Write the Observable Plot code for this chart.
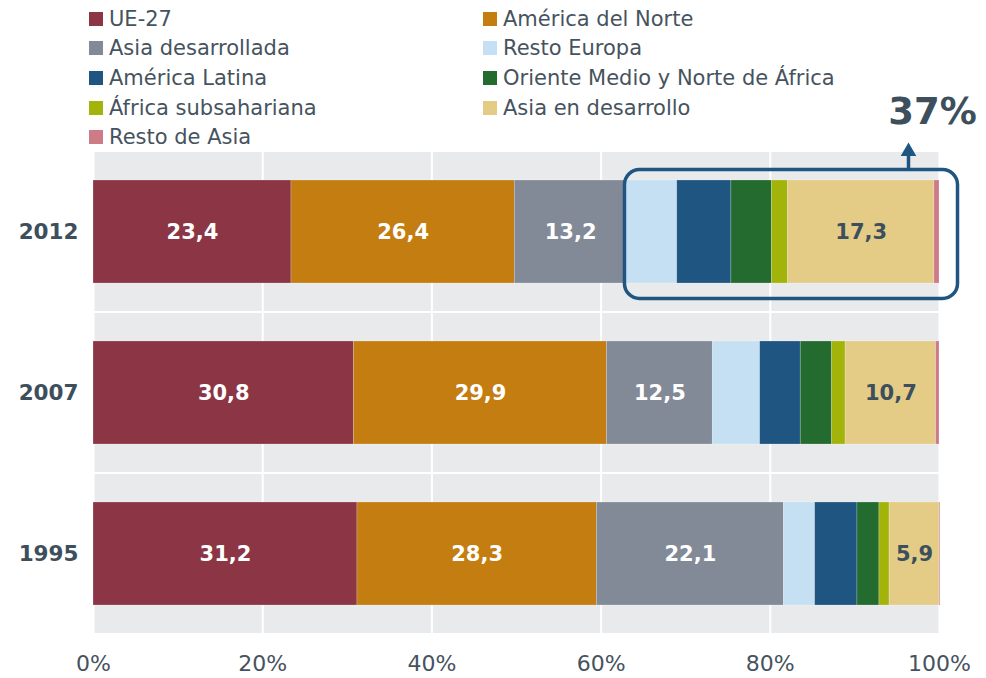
<!DOCTYPE html>
<html><head><meta charset="utf-8">
<script src="https://cdn.jsdelivr.net/npm/d3@7"></script>
<script src="https://cdn.jsdelivr.net/npm/@observablehq/plot@0.6"></script>
<style>
body{margin:0;background:#fff;font-family:"DejaVu Sans",Verdana,sans-serif;}
#wrap{position:relative;width:986px;height:678px;overflow:hidden;}
#legend{position:absolute;left:0;top:0;width:986px;height:150px;pointer-events:none;}
.item{position:absolute;display:flex;align-items:center;height:30px;font-size:21px;color:#46535e;white-space:nowrap;}
.sw{width:14px;height:14px;margin-right:6px;flex:none;}
</style></head><body><div id="wrap"><div id="legend"></div></div>
<script>
const years = ["2012", "2007", "1995"];
const regions = ["UE-27", "América del Norte", "Asia desarrollada", "Resto Europa", "América Latina",
  "Oriente Medio y Norte de África", "África subsahariana", "Asia en desarrollo", "Resto de Asia"];
const colors = ["#8B3545", "#C47D10", "#838A97", "#C5E0F2", "#1E5581", "#246B30", "#A2B30A", "#E4CC86", "#CD7B87"];
const v2012 = [23.4, 26.4, 13.2, 6.0, 6.4, 4.8, 1.9, 17.3, 0.6];
const v2007 = [30.8, 29.9, 12.5, 5.6, 4.8, 3.7, 1.6, 10.7, 0.4];
const v1995 = [31.2, 28.3, 22.1, 3.7, 5.0, 2.6, 1.2, 5.9, 0.1];
const xTicks = [0, 20, 40, 60, 80, 100];
const whiteLabelled = ["UE-27", "América del Norte", "Asia desarrollada"];
const darkLabelled = ["Asia en desarrollo"];
const highlightLabel = "37%";
const highlightYear = "2012";
const highlightFromIndex = 3; // highlight covers regions from "Resto Europa" onwards

const valuesByYear = {"2012": v2012, "2007": v2007, "1995": v1995};
const data = years.flatMap(y => regions.map((r, i) => ({year: y, region: r, value: valuesByYear[y][i]})));
const fmt = v => v.toFixed(1).replace(".", ",");

const hlStart = d3.sum(valuesByYear[highlightYear].slice(0, highlightFromIndex));
const hlEnd = 100;
const annot = [{x1: hlStart, x2: hlEnd, y: highlightYear, label: highlightLabel}];

const dark = "#3d4f5c";
const blue = "#1E5581";

const chart = Plot.plot({
  width: 986, height: 678,
  marginTop: 150, marginBottom: 44, marginLeft: 93, marginRight: 47,
  x: {domain: [0, 100], label: null},
  y: {domain: years, padding: 0, label: null},
  color: {domain: regions, range: colors},
  style: {fontFamily: "'DejaVu Sans', Verdana, sans-serif", background: "white", color: "#46535e", overflow: "visible"},
  marks: [
    Plot.barX(years, {x1: 0, x2: 100, y: d => d, fill: "#e9eaec", insetTop: 1, insetBottom: 1}),
    Plot.ruleX(xTicks, {x: d => d, stroke: "white", strokeWidth: 2}),
    Plot.barX(data, Plot.stackX({x: "value", y: "year", z: "region", fill: "region", order: null,
      insetTop: 29, insetBottom: 29, stroke: "white", strokeOpacity: 0.3, strokeWidth: 0.7})),
    Plot.text(data, Plot.stackX({x: "value", y: "year", z: "region", order: null,
      text: d => whiteLabelled.includes(d.region) ? fmt(d.value) : null,
      fill: "white", fontSize: 21, fontWeight: "bold"})),
    Plot.text(data, Plot.stackX({x: "value", y: "year", z: "region", order: null,
      text: d => darkLabelled.includes(d.region) ? fmt(d.value) : null,
      fill: dark, fontSize: 21, fontWeight: "bold"})),
    Plot.barX(annot, {x1: "x1", x2: "x2", y: "y", fill: "none", stroke: blue, strokeWidth: 3.5, rx: 15,
      insetLeft: -1.5, insetRight: -18.5, insetTop: 18.5, insetBottom: 13.5}),
    Plot.tickX(annot, {x: "x2", y: "y", stroke: blue, strokeWidth: 3.5, dx: -31, insetTop: 4, insetBottom: 142.5}),
    Plot.dot(annot, {x: "x2", y: "y", symbol: "triangle", r: 5.8, fill: blue, stroke: "none", dx: -31, dy: -80.5}),
    Plot.text(annot, {x: "x2", y: "y", text: "label", fill: dark, fontSize: 37, fontWeight: "bold", dx: -7, dy: -119.5}),
    Plot.axisX({ticks: xTicks, tickFormat: d => d + "%", tickSize: 0, tickPadding: 21, fontSize: 22, fill: "#46535e"}),
    Plot.axisY({tickSize: 0, tickPadding: 15, fontSize: 21.5, fontWeight: "bold", fill: dark})
  ]
});
document.getElementById("wrap").prepend(chart);

const legend = document.getElementById("legend");
regions.forEach((r, i) => {
  const col = i % 2, row = Math.floor(i / 2);
  const item = document.createElement("div");
  item.className = "item";
  item.style.left = (col === 0 ? 89 : 483) + "px";
  item.style.top = (18.5 + 29.7 * row - 15) + "px";
  const sw = document.createElement("span");
  sw.className = "sw";
  sw.style.background = colors[i];
  item.appendChild(sw);
  item.appendChild(document.createTextNode(r));
  legend.appendChild(item);
});
</script></body></html>
